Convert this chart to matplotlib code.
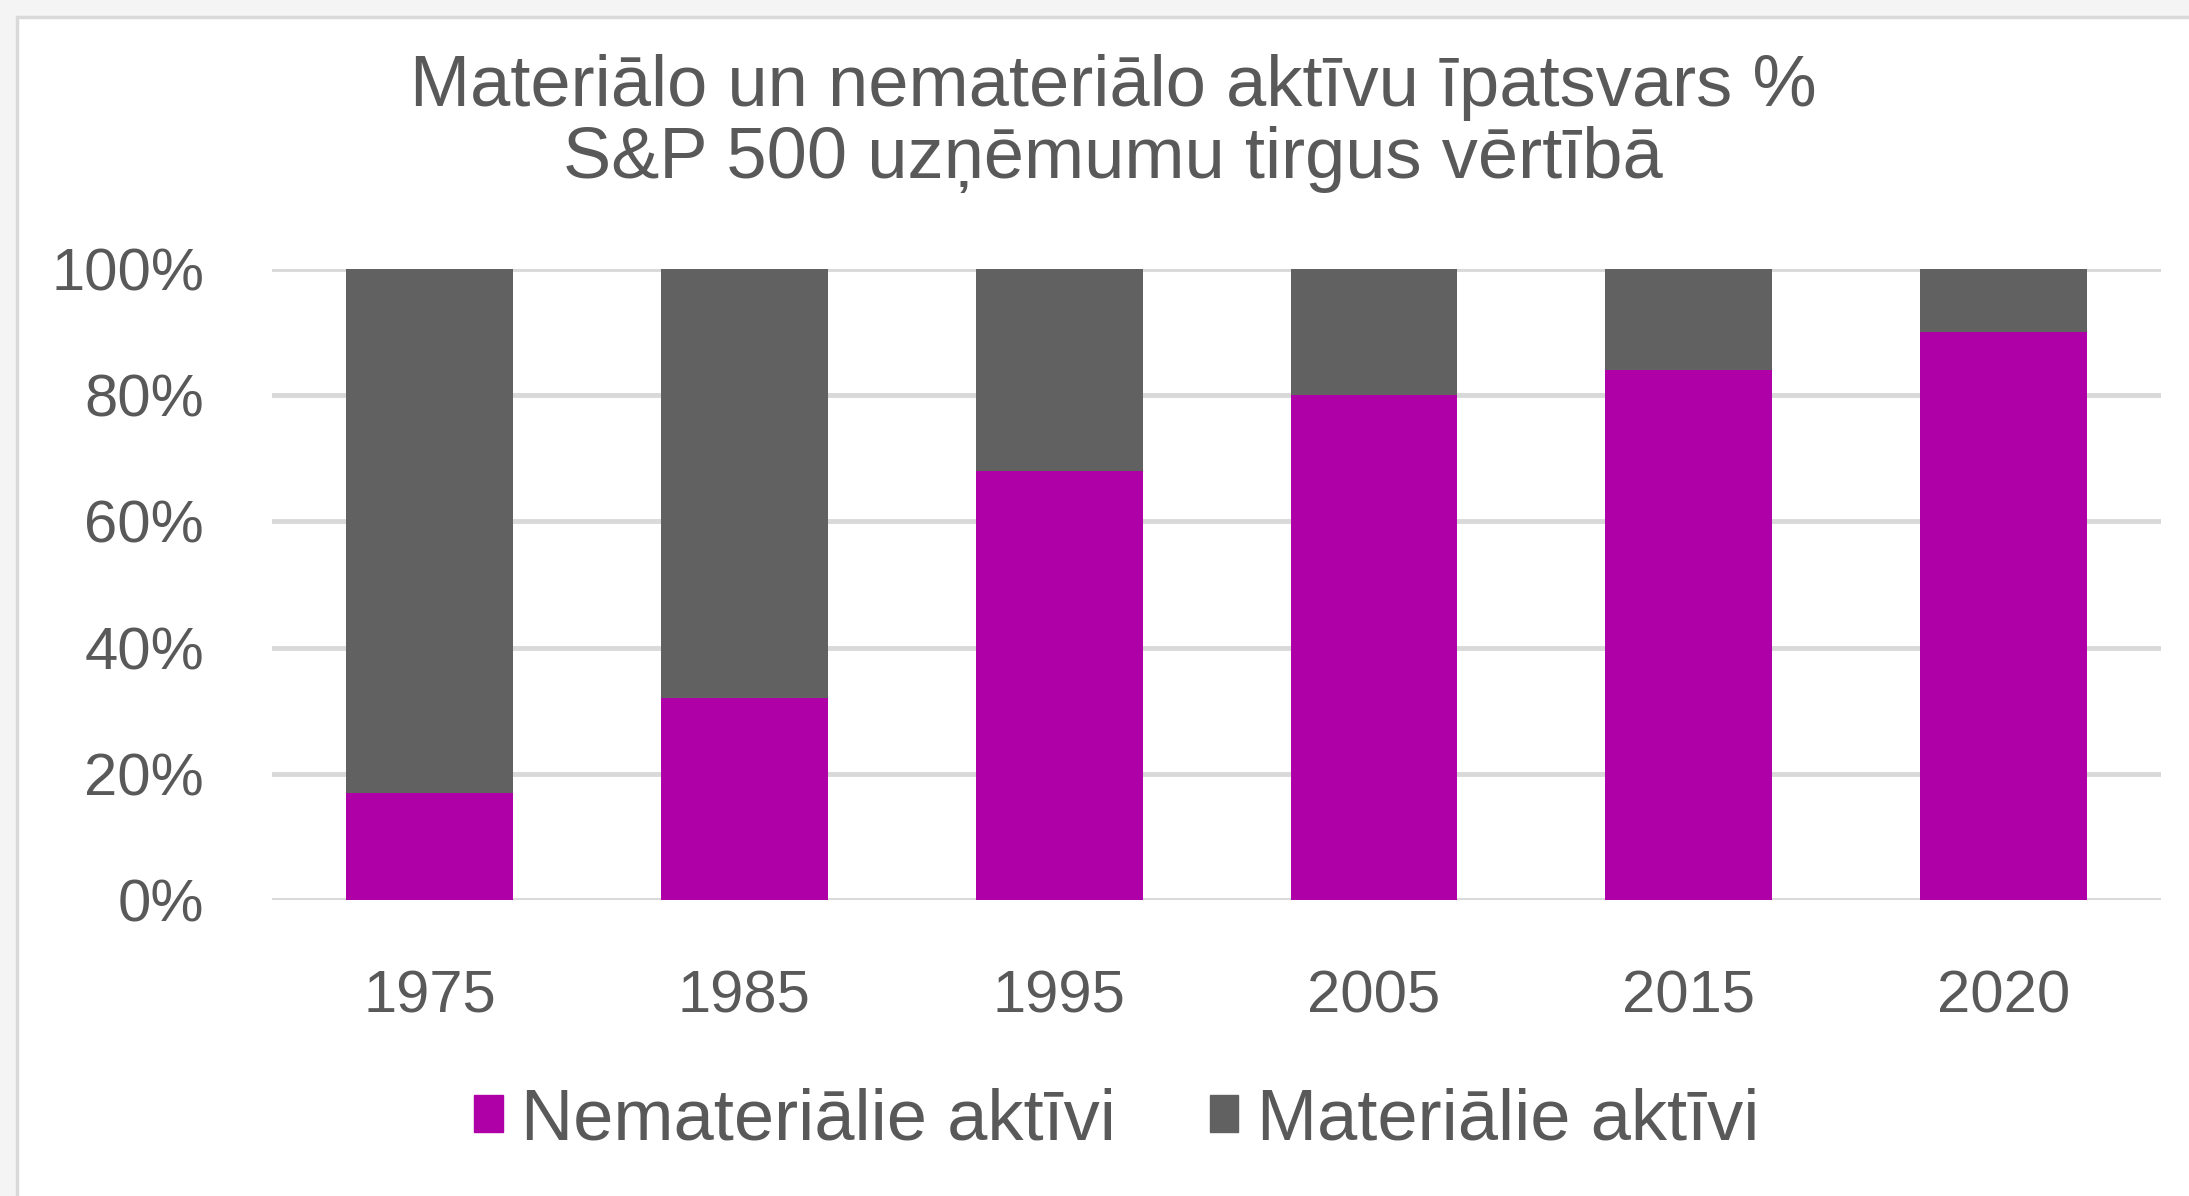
import numpy as np
import matplotlib.pyplot as plt
from matplotlib.patches import Rectangle, Patch

# data
years = ["1975", "1985", "1995", "2005", "2015", "2020"]
intangible = [17, 32, 68, 80, 84, 90]
tangible = [100 - v for v in intangible]
series_names = ["Nemateriālie aktīvi", "Materiālie aktīvi"]
yticks = [0, 20, 40, 60, 80, 100]

title = "Materiālo un nemateriālo aktīvu īpatsvars %\nS&P 500 uzņēmumu tirgus vērtībā"

magenta = "#ae00a6"
grey = "#616161"
text_col = "#595959"

plt.rcParams['font.family'] = ['Liberation Sans', 'DejaVu Sans']

fig = plt.figure(figsize=(21.89, 11.96), dpi=100)
fig.patch.set_facecolor("#f4f4f4")
fig.patches.append(Rectangle((17 / 2189, -0.01), 1.0, 1 - 17 / 1196 + 0.01,
                             transform=fig.transFigure, facecolor="white",
                             edgecolor="#d9d9d9", linewidth=2.5, zorder=-10))

ax = fig.add_axes([0.1243, 0.2475, 0.8629, 0.5276])
ax.set_facecolor("none")

x = np.arange(len(years))
w = 0.53
ax.bar(x, np.array(intangible) / 100, w, color=magenta, zorder=3)
ax.bar(x, np.array(tangible) / 100, w, bottom=np.array(intangible) / 100,
       color=grey, zorder=3)

ax.set_xlim(-0.5, len(years) - 0.5)
ax.set_ylim(0, 1.0)
ax.set_yticks([v / 100 for v in yticks])
ax.set_yticklabels([f"{v}%" for v in yticks])
ax.set_xticks(x)
ax.set_xticklabels(years)
ax.yaxis.grid(True, color="#d9d9d9", linewidth=3.5, zorder=1)
ax.set_axisbelow(True)
for s in ax.spines.values():
    s.set_visible(False)
ax.tick_params(axis="both", length=0, labelsize=43, colors=text_col)
ax.tick_params(axis="y", pad=49)
ax.tick_params(axis="x", pad=50)

fig.text(0.5085, 0.955, title, ha="center", va="top", fontsize=52,
         color=text_col, linespacing=1.1)

handles = [Patch(color=magenta), Patch(color=grey)]
fig.legend(handles, series_names, loc="center", bbox_to_anchor=(0.51, 0.063),
           ncol=2, frameon=False, fontsize=52, labelcolor=text_col,
           handlelength=0.4, handleheight=0.4, handletextpad=0.25,
           columnspacing=1.3)

fig.savefig("out.png", dpi=100, facecolor=fig.get_facecolor())
